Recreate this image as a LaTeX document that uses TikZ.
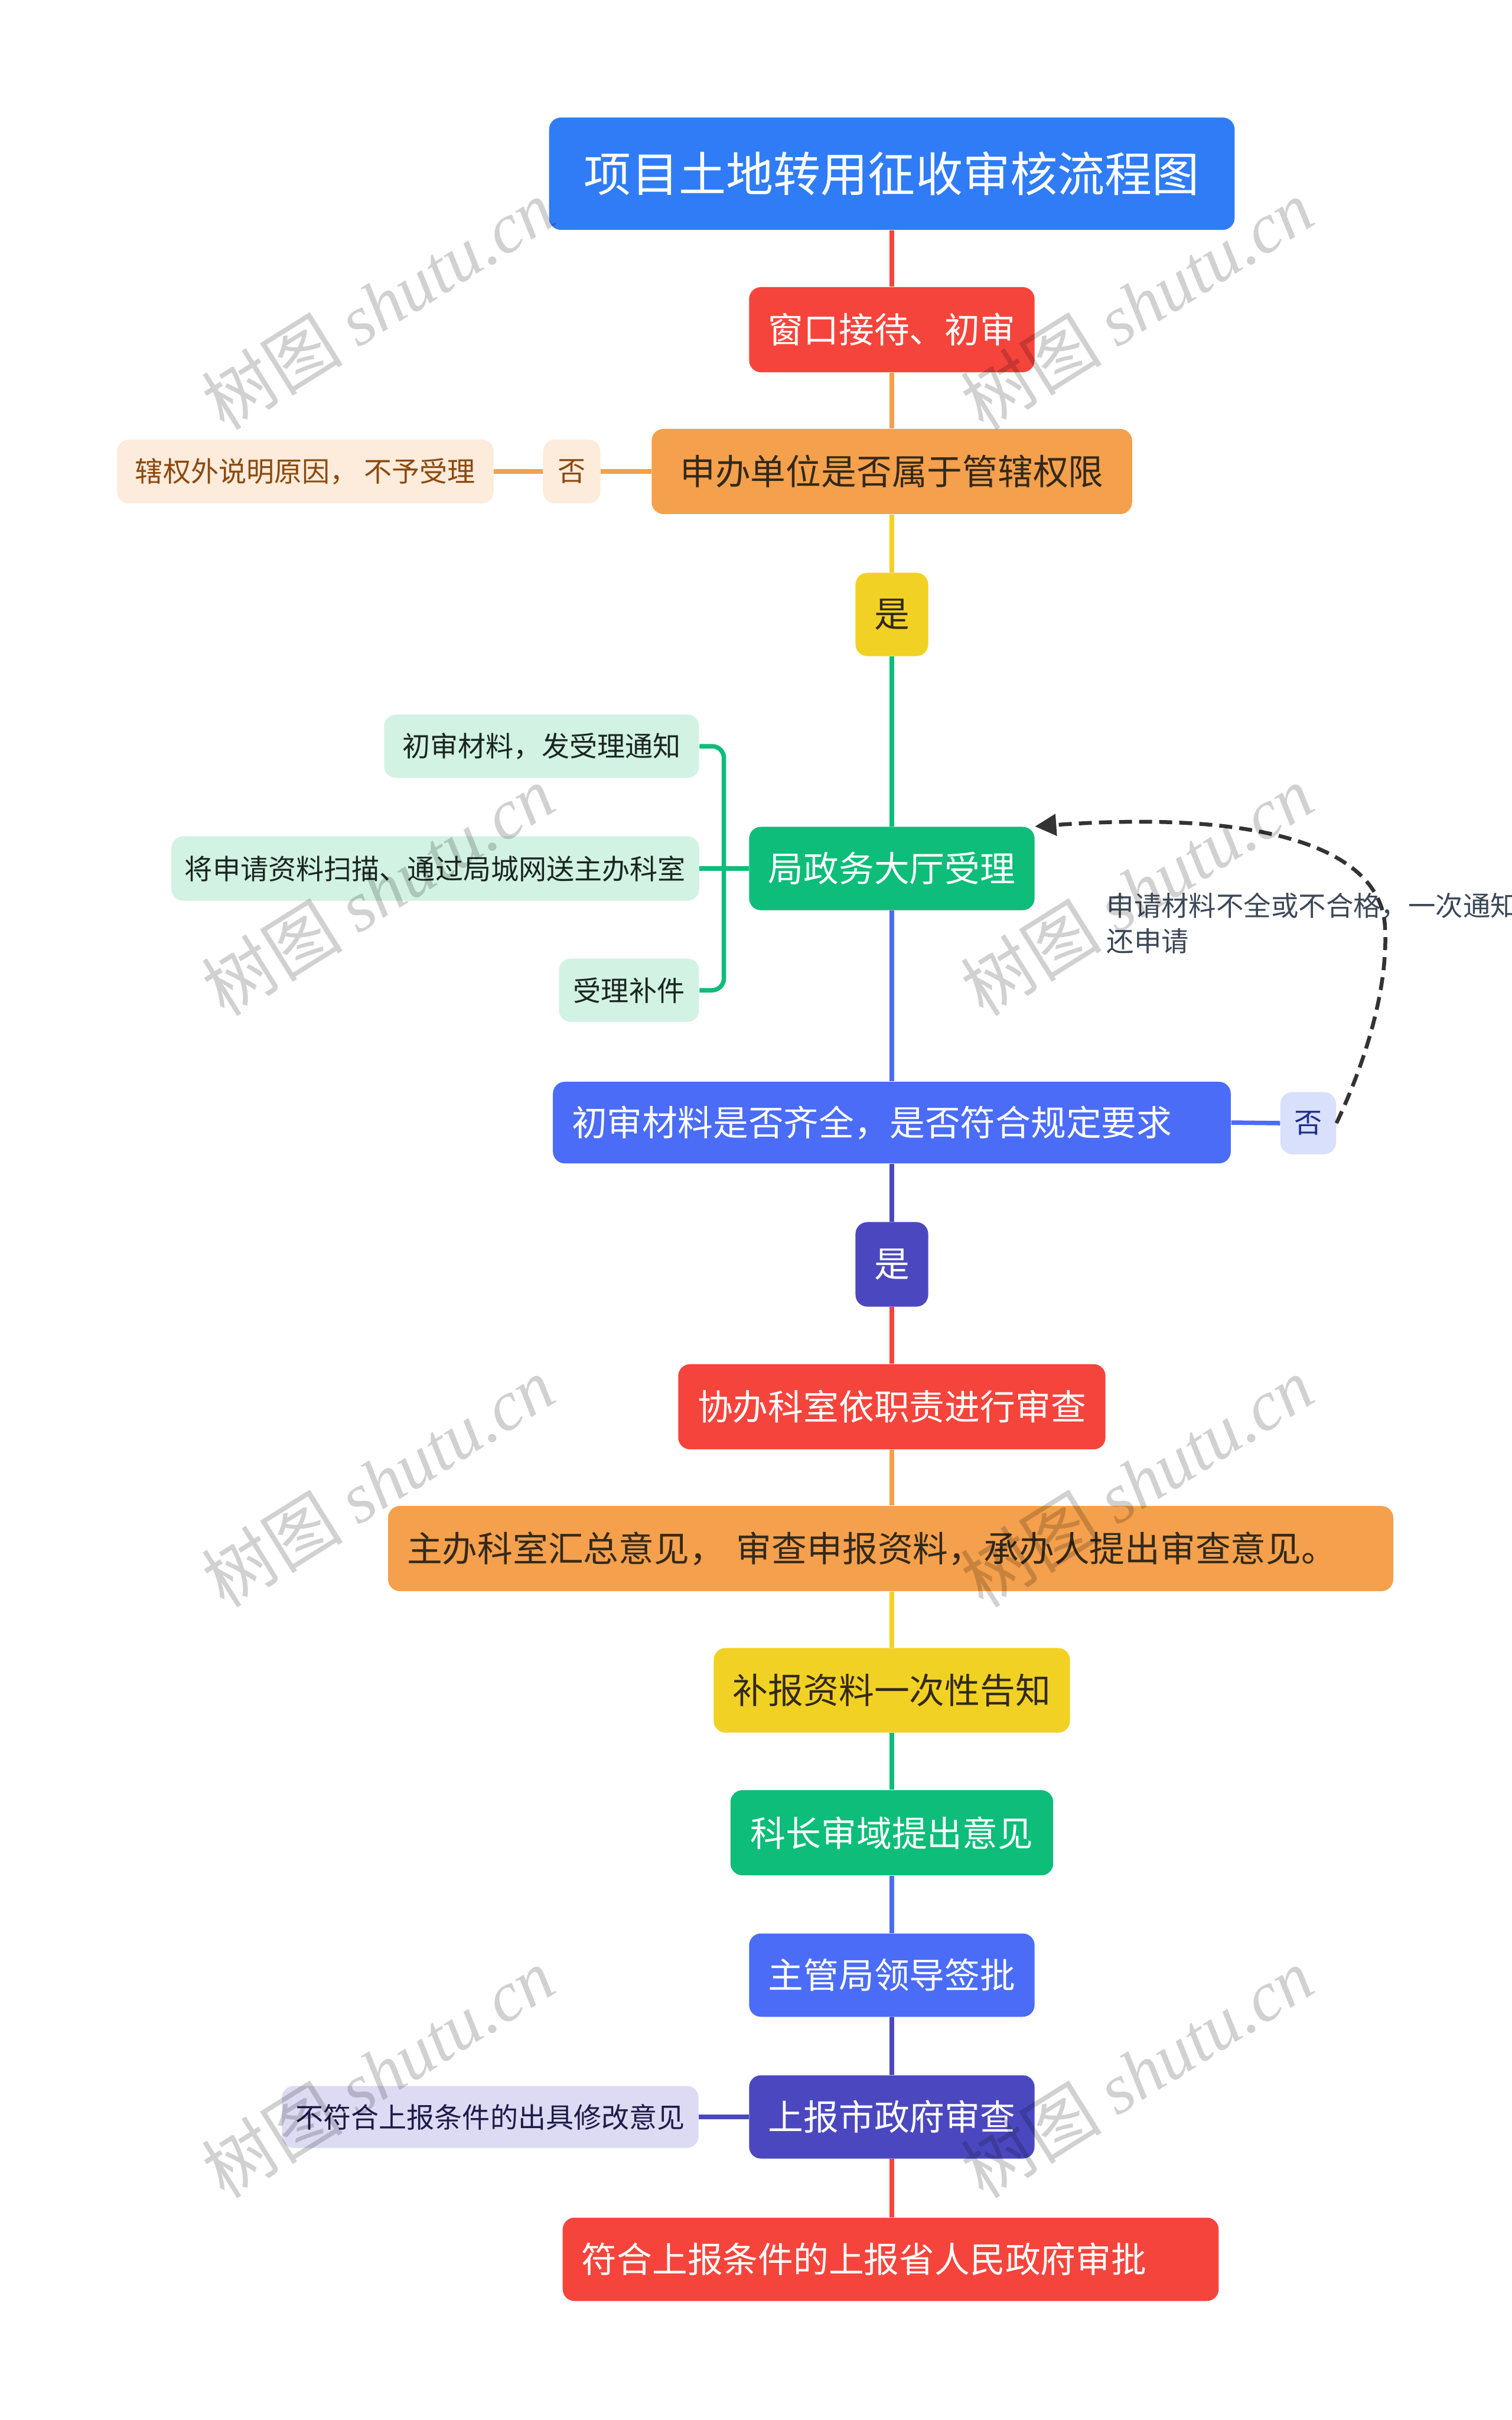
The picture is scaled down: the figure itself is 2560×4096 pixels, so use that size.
\documentclass[tikz,border=0pt]{standalone}
\usepackage{fontspec}
\setmainfont{Noto Sans CJK SC}
\newfontfamily\wmserif{Liberation Serif}
\usetikzlibrary{arrows.meta}
\newcommand{\fsz}[1]{\fontsize{#1}{#1}\selectfont}
\definecolor{cBlueT}{HTML}{2F7CF6}
\definecolor{cRed}{HTML}{F5443C}
\definecolor{cOrange}{HTML}{F4A04C}
\definecolor{cYellow}{HTML}{F1D224}
\definecolor{cGreen}{HTML}{0DBD79}
\definecolor{cBlue}{HTML}{4A6CF7}
\definecolor{cIndigo}{HTML}{4B48BF}
\definecolor{cPeach}{HTML}{FDEBDC}
\definecolor{cLGreen}{HTML}{D2F2E4}
\definecolor{cLBlue}{HTML}{D8E0FB}
\definecolor{cLav}{HTML}{DDDBF3}
\definecolor{tDark}{HTML}{33291A}
\definecolor{tBrown}{HTML}{8B4A0E}
\definecolor{tNavy}{HTML}{1F2E8C}
\definecolor{tLav}{HTML}{1E1B4B}
\definecolor{tLabel}{HTML}{3C4858}
\definecolor{tGreenD}{HTML}{1B2620}
\begin{document}
\begin{tikzpicture}[x=0.01cm,y=-0.01cm,
  box/.style={rounded corners=0.2cm, inner sep=0pt, align=center, font=\fsz{17}},
  leftbox/.style={box, inner xsep=0.32cm, align=left},
  smalltext/.style={font=\fsz{13.4}},
  conn/.style={line width=0.075cm},
  dashline/.style={line width=0.065cm, dash pattern=on 0.22cm off 0.12cm, draw=black!80},
  wmark/.style={text=black, text opacity=0.18, font=\fsz{34}, inner sep=0pt, rotate=32}
]
\fill[white] (0,0) rectangle (2560,4096);
\useasboundingbox (0,0) rectangle (2560,4096);

% main trunk nodes
\node[box, fill=cBlueT, text=white, font=\fsz{22.8}, minimum width=11.6cm, minimum height=1.9cm] (title) at (1510,294) {项目土地转用征收审核流程图};
\node[box, fill=cRed, text=white, minimum width=4.83cm, minimum height=1.44cm] (win) at (1510,558) {窗口接待、初审};
\node[box, fill=cOrange, text=tDark, minimum width=8.13cm, minimum height=1.44cm] (app) at (1510,798) {申办单位是否属于管辖权限};
\node[box, fill=cPeach, text=tBrown, smalltext, minimum width=0.97cm, minimum height=1.08cm] (no1) at (968,798) {否};
\node[box, fill=cPeach, text=tBrown, smalltext, minimum width=6.37cm, minimum height=1.08cm] (out) at (517,798) {辖权外说明原因，\ 不予受理};
\node[box, fill=cYellow, text=tDark, minimum width=1.23cm, minimum height=1.41cm] (yes1) at (1510,1040) {是};
\node[box, fill=cGreen, text=white, minimum width=4.83cm, minimum height=1.41cm] (hall) at (1510,1470) {局政务大厅受理};
\node[box, fill=cLGreen, text=tGreenD, smalltext, minimum width=5.33cm, minimum height=1.07cm] (c1) at (917,1263) {初审材料，发受理通知};
\node[box, fill=cLGreen, text=tGreenD, smalltext, minimum width=8.93cm, minimum height=1.09cm] (c2) at (737,1470) {将申请资料扫描、通过局城网送主办科室};
\node[box, fill=cLGreen, text=tGreenD, smalltext, minimum width=2.37cm, minimum height=1.07cm] (c3) at (1065,1676) {受理补件};
\node[leftbox, fill=cBlue, text=white, text width=10.83cm, minimum height=1.38cm] (check) at (1510,1900) {初审材料是否齐全，是否符合规定要求};
\node[box, fill=cLBlue, text=tNavy, smalltext, minimum width=0.94cm, minimum height=1.05cm] (no2) at (2215,1901) {否};
\node[box, fill=cIndigo, text=white, minimum width=1.23cm, minimum height=1.43cm] (yes2) at (1510,2140) {是};
\node[box, fill=cRed, text=white, minimum width=7.23cm, minimum height=1.44cm] (coop) at (1510,2381) {协办科室依职责进行审查};
\node[leftbox, fill=cOrange, text=tDark, text width=16.37cm, minimum height=1.44cm] (main) at (1508,2621) {主办科室汇总意见，\ 审查申报资料，承办人提出审查意见。};
\node[box, fill=cYellow, text=tDark, minimum width=6.03cm, minimum height=1.43cm] (supp) at (1510,2861) {补报资料一次性告知};
\node[box, fill=cGreen, text=white, minimum width=5.46cm, minimum height=1.44cm] (chief) at (1510,3102) {科长审域提出意见};
\node[box, fill=cBlue, text=white, minimum width=4.83cm, minimum height=1.41cm] (lead) at (1510,3343) {主管局领导签批};
\node[box, fill=cIndigo, text=white, minimum width=4.83cm, minimum height=1.41cm] (report) at (1510,3583) {上报市政府审查};
\node[box, fill=cLav, text=tLav, smalltext, minimum width=7.05cm, minimum height=1.05cm] (nr) at (830,3583) {不符合上报条件的出具修改意见};
\node[leftbox, fill=cRed, text=white, text width=10.46cm, minimum height=1.41cm] (final) at (1508,3824) {符合上报条件的上报省人民政府审批};

% label of the loop
\node[anchor=north west, inner sep=0pt, align=left, text=tLabel, font=\fontsize{13.2}{17}\selectfont] (lbl) at (1873,1510) {申请材料不全或不合格，一次通知\\还申请};

% trunk connectors
\draw[conn, cRed] (title.south) -- (win.north);
\draw[conn, cOrange] (win.south) -- (app.north);
\draw[conn, cYellow] (app.south) -- (yes1.north);
\draw[conn, cGreen] (yes1.south) -- (hall.north);
\draw[conn, cBlue] (hall.south) -- (check.north -| hall.south);
\draw[conn, cIndigo] (check.south -| yes2.north) -- (yes2.north);
\draw[conn, cRed] (yes2.south) -- (coop.north);
\draw[conn, cOrange] (coop.south) -- (main.north -| coop.south);
\draw[conn, cYellow] (main.south -| supp.north) -- (supp.north);
\draw[conn, cGreen] (supp.south) -- (chief.north);
\draw[conn, cBlue] (chief.south) -- (lead.north);
\draw[conn, cIndigo] (lead.south) -- (report.north);
\draw[conn, cRed] (report.south) -- (final.north -| report.south);

% side connectors
\draw[conn, cOrange] (app.west) -- (no1.east);
\draw[conn, cOrange] (no1.west) -- (out.east);
\draw[conn, cGreen] (hall.west) -- (c2.east);
\draw[conn, cGreen, rounded corners=0.2cm] (c1.east) -| ([xshift=-0.42cm]hall.west) |- (c3.east);
\draw[conn, cBlue] (check.east) -- (no2.west);
\draw[conn, cIndigo] (report.west) -- (nr.east);

% dashed loop back
\coordinate (bend) at (2345,1570);
\draw[dashline, -{Triangle[length=0.36cm,width=0.36cm]}] (no2.east) .. controls (2320,1780) and (2350,1660) .. (bend) .. controls (2340,1440) and (2150,1370) .. (hall.north east);

% watermarks
\foreach \wx/\wy [count=\i] in {640/515, 1925/515, 640/1507, 1925/1507, 640/2508, 1925/2508, 640/3508, 1925/3508}{
  \node[wmark] (wm\i) at (\wx,\wy) {树图 {\wmserif\itshape shutu.cn}};
}
\end{tikzpicture}
\end{document}
